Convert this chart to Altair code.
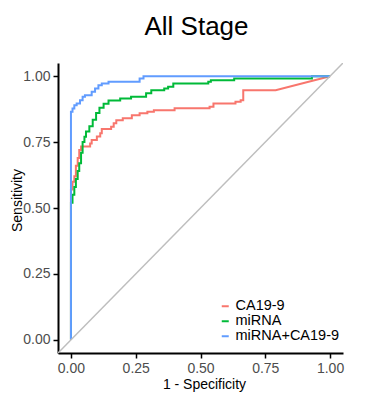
import altair as alt
import pandas as pd

# ---- data (1 - specificity, sensitivity) ----
models = ["CA19-9", "miRNA", "miRNA+CA19-9"]
colors = ["#F8766D", "#00BA38", "#619CFF"]

ca_fpr = [0, 0, 0.006, 0.006, 0.013, 0.013, 0.019, 0.019, 0.026, 0.026, 0.032, 0.032,
          0.039, 0.039, 0.074, 0.074, 0.080, 0.080, 0.100, 0.100, 0.113, 0.113, 0.119,
          0.119, 0.155, 0.155, 0.165, 0.165, 0.175, 0.175, 0.200, 0.200, 0.235, 0.235,
          0.265, 0.265, 0.295, 0.295, 0.320, 0.320, 0.400, 0.400, 0.535, 0.535, 0.550,
          0.550, 0.635, 0.635, 0.655, 0.655, 0.665, 0.665, 0.790, 1.0]
ca_tpr = [0, 0.57, 0.57, 0.60, 0.60, 0.62, 0.62, 0.66, 0.66, 0.69, 0.69, 0.72,
          0.72, 0.733, 0.733, 0.745, 0.745, 0.758, 0.758, 0.771, 0.771, 0.784, 0.784,
          0.800, 0.800, 0.808, 0.808, 0.821, 0.821, 0.833, 0.833, 0.840, 0.840, 0.852,
          0.852, 0.859, 0.859, 0.865, 0.865, 0.871, 0.871, 0.878, 0.878, 0.884, 0.884,
          0.896, 0.896, 0.903, 0.903, 0.909, 0.909, 0.947, 0.947, 1.0]

mi_fpr = [0, 0, 0.006, 0.006, 0.013, 0.013, 0.019, 0.019, 0.026, 0.026, 0.032, 0.032,
          0.039, 0.039, 0.045, 0.045, 0.052, 0.052, 0.058, 0.058, 0.071, 0.071, 0.084,
          0.084, 0.097, 0.097, 0.110, 0.110, 0.126, 0.126, 0.145, 0.145, 0.190, 0.190,
          0.232, 0.232, 0.290, 0.290, 0.310, 0.310, 0.360, 0.360, 0.375, 0.375, 0.395,
          0.395, 0.530, 0.530, 0.540, 0.540, 0.630, 0.630, 0.930, 0.930, 1.0]
mi_tpr = [0, 0.52, 0.52, 0.55, 0.55, 0.58, 0.58, 0.61, 0.61, 0.64, 0.64, 0.67,
          0.67, 0.71, 0.71, 0.75, 0.75, 0.77, 0.77, 0.79, 0.79, 0.81, 0.81,
          0.835, 0.835, 0.86, 0.86, 0.88, 0.88, 0.895, 0.895, 0.908, 0.908, 0.915,
          0.915, 0.922, 0.922, 0.935, 0.935, 0.947, 0.947, 0.953, 0.953, 0.960, 0.960,
          0.972, 0.972, 0.979, 0.979, 0.985, 0.985, 0.991, 0.991, 1.0, 1.0]

co_fpr = [0, 0, 0.006, 0.006, 0.013, 0.013, 0.022, 0.022, 0.035, 0.035, 0.045, 0.045,
          0.054, 0.054, 0.080, 0.080, 0.093, 0.093, 0.106, 0.106, 0.119, 0.119, 0.145,
          0.145, 0.265, 0.265, 0.280, 0.280, 1.0]
co_tpr = [0, 0.865, 0.865, 0.877, 0.877, 0.890, 0.890, 0.896, 0.896, 0.909, 0.909, 0.922,
          0.922, 0.928, 0.928, 0.941, 0.941, 0.953, 0.953, 0.966, 0.966, 0.972, 0.972,
          0.979, 0.979, 0.991, 0.991, 1.0, 1.0]

diag_vals = [-0.05, 1.05]

rows = []
for name, xs, ys in [(models[0], ca_fpr, ca_tpr), (models[1], mi_fpr, mi_tpr), (models[2], co_fpr, co_tpr)]:
    for i, (a, b) in enumerate(zip(xs, ys)):
        rows.append({"fpr": a, "tpr": b, "model": name, "i": i})
df = pd.DataFrame(rows)
diag = pd.DataFrame({"fpr": diag_vals, "tpr": diag_vals})

FONT = "Liberation Sans"
xscale = alt.Scale(domain=[-0.05, 1.05], nice=False, zero=False)
yscale = alt.Scale(domain=[-0.05, 1.05], nice=False, zero=False)
ticks = [0, 0.25, 0.5, 0.75, 1.0]

axis_common = dict(values=ticks, format=".2f", grid=False, domainColor="black", domainWidth=2,
                   tickColor="black", tickWidth=1.5, tickSize=5, labelFontSize=14,
                   labelColor="#4D4D4D", labelFont=FONT, titleFont=FONT, titleFontSize=14,
                   titleFontWeight="normal", titleColor="black", labelPadding=3,
                   titleBaseline="alphabetic")

curves = alt.Chart(df).mark_line(strokeWidth=2, clip=True).encode(
    x=alt.X("fpr:Q", scale=xscale,
            axis=alt.Axis(title="1 - Specificity", titleX=146, titleY=35, titleAlign="center",
                          **axis_common)),
    y=alt.Y("tpr:Q", scale=yscale,
            axis=alt.Axis(title="Sensitivity", titleX=-37, titleY=137, titleAngle=270,
                          titleAlign="center", **axis_common)),
    color=alt.Color("model:N", scale=alt.Scale(domain=models, range=colors),
                    legend=alt.Legend(title=None, orient="none", legendX=160, legendY=236,
                                      symbolType="stroke", symbolStrokeWidth=2, symbolSize=49,
                                      labelFontSize=14.5, labelFont=FONT, labelColor="black",
                                      rowPadding=0, padding=0, labelOffset=3)),
    order=alt.Order("i:Q"),
    detail="model:N",
)

diag_line = alt.Chart(diag).mark_line(color="#BEBEBE", strokeWidth=1.5, clip=True).encode(
    x=alt.X("fpr:Q", scale=xscale),
    y=alt.Y("tpr:Q", scale=yscale),
)

chart = alt.layer(curves, diag_line).properties(
    width=285, height=290,
    title=alt.Title("All Stage", fontSize=26, font=FONT, fontWeight="normal", anchor="middle",
                    color="black", baseline="alphabetic", offset=2, dx=-4),
    autosize=alt.AutoSizeParams(type="none"),
    padding={"left": 50, "top": 55, "right": 38, "bottom": 40},
).configure_view(stroke=None)

chart.save("out.html", embed_options={"renderer": "svg", "actions": False})
